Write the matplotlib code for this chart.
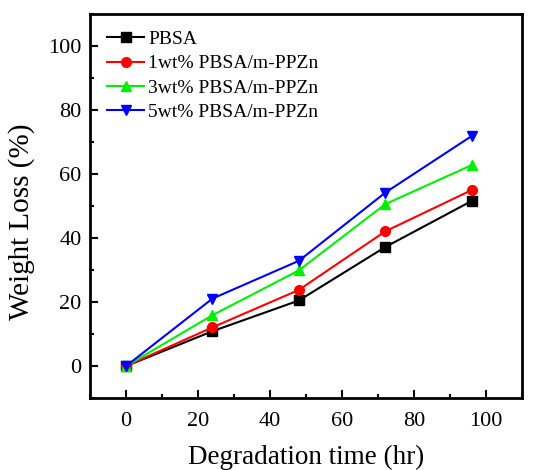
import matplotlib
matplotlib.use("Agg")
import matplotlib.pyplot as plt
from matplotlib.ticker import MultipleLocator

plt.rcParams['font.family'] = ['Liberation Serif', 'DejaVu Serif']

time_hr = [0, 24, 48, 72, 96]
pbsa = [0, 10.9, 20.5, 37.2, 51.6]
wt1 = [0, 12.1, 23.8, 42.1, 55.0]
wt3 = [0, 15.9, 29.9, 50.6, 62.8]
wt5 = [0, 21.1, 32.9, 54.2, 71.9]
labels = ['PBSA', '1wt% PBSA/m-PPZn', '3wt% PBSA/m-PPZn', '5wt% PBSA/m-PPZn']
colors = ['black', 'red', '#00ee00', 'blue']
markers = ['s', 'o', '^', 'v']

fig = plt.figure(figsize=(5.36, 4.70), dpi=100)
ax = fig.add_axes([0.168, 0.153, 0.806, 0.817])

for ys, lab, c, m in zip([pbsa, wt1, wt3, wt5], labels, colors, markers):
    ax.plot(time_hr, ys, color=c, marker=m, markersize=7, linewidth=1.5, label=lab)

ax.set_xlim(-10, 110)
ax.set_ylim(-10, 110)
ax.xaxis.set_major_locator(MultipleLocator(20))
ax.xaxis.set_minor_locator(MultipleLocator(10))
ax.yaxis.set_major_locator(MultipleLocator(20))
ax.yaxis.set_minor_locator(MultipleLocator(10))
ax.tick_params(which='both', direction='in', top=False, right=False, labelsize=16, width=1.5)
ax.tick_params(which='major', length=6)
ax.tick_params(axis='y', which='major', pad=6)
ax.tick_params(axis='x', which='major', pad=10)
ax.tick_params(which='minor', length=3)
for s in ax.spines.values():
    s.set_linewidth(2)

ax.set_xlabel('Degradation time (hr)', fontsize=19.5, labelpad=10)
ax.set_ylabel('Weight Loss (%)', fontsize=21)
ax.yaxis.set_label_coords(-0.128, 0.458)

ax.legend(loc='upper left', frameon=False, fontsize=14, handlelength=1.95,
          handletextpad=0.2, labelspacing=0.34, borderaxespad=0.45, borderpad=0.4)

fig.savefig('out.png', dpi=100)
